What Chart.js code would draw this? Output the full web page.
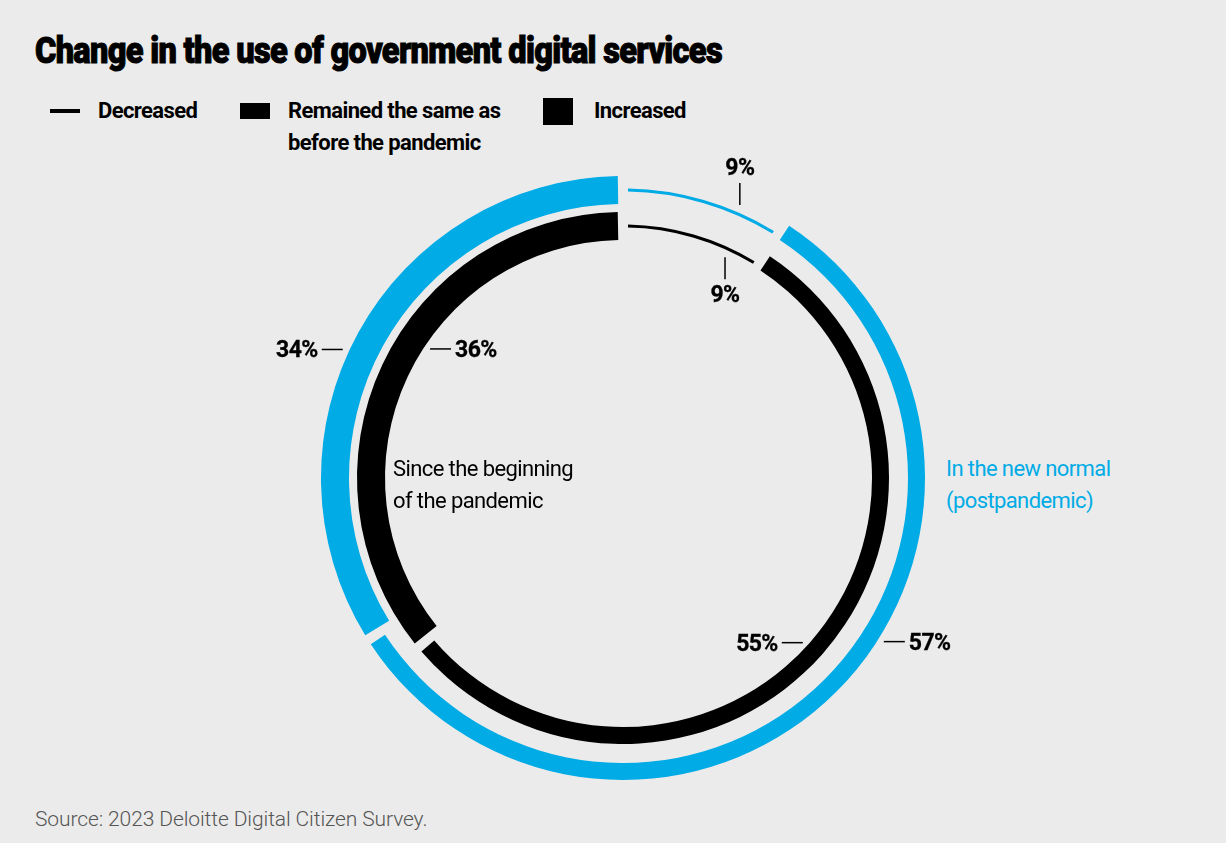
<!DOCTYPE html>
<html>
<head>
<meta charset="utf-8">
<script src="https://cdn.jsdelivr.net/npm/chart.js@4.4.1/dist/chart.umd.min.js"></script>
<style>
  html, body { margin: 0; padding: 0; }
  body {
    width: 1226px; height: 843px; position: relative; overflow: hidden;
    background: #ebebeb; color: #000;
    font-family: "Roboto", "Liberation Sans", sans-serif;
  }
  #title {
    position: absolute; left: 35px; top: 31px; margin: 0;
    font-size: 37px; font-weight: 900; letter-spacing: -0.8px; line-height: 40px;
    -webkit-text-stroke: 1px #000; white-space: nowrap; transform-origin: left center;
  }
  #legend { position: absolute; left: 0; top: 95px; }
  .item { position: absolute; top: 0; display: flex; align-items: flex-start; gap: 18px; }
  .swatch { width: 30px; background: #000; flex: none; }
  .item span { font-size: 22px; font-weight: 700; line-height: 32px; letter-spacing: -0.6px; }
  #chartBox { position: absolute; left: 312px; top: 167px; width: 622px; height: 622px; }
  #chartBox canvas { position: absolute; left: 0; top: 0; }
  .pct {
    position: absolute; font-size: 23px; font-weight: 700; line-height: 23px;
    white-space: nowrap; letter-spacing: -0.6px; -webkit-text-stroke: 0.3px #000;
  }
  .ringName { position: absolute; font-size: 22px; line-height: 32px; white-space: nowrap; letter-spacing: -0.6px; }
  #source {
    position: absolute; left: 35px; top: 805px; font-size: 21px; line-height: 28px; color: #555;
    letter-spacing: -0.1px; font-weight: 300;
  }
</style>
</head>
<body>
<h1 id="title">Change in the use of government digital services</h1>
<div id="legend"></div>
<div id="chartBox"><canvas id="ringChart" width="622" height="622"></canvas></div>
<div id="source">Source: 2023 Deloitte Digital Citizen Survey.</div>

<script>
// categories and values, outer ring first
const categories = ['Decreased', 'Remained the same as before the pandemic', 'Increased'];
const ringNames = [['In the new normal', '(postpandemic)'], ['Since the beginning', 'of the pandemic']];
const newNormal = [9, 57, 34];
const sinceStart = [9, 55, 36];

// look of the rings
const ringColors = ['#00abe6', '#000000'];
const ringOuter = [302, 266];          // px from center
const segWidth = [3, 17, 28];          // thin line / medium / thick
const GAP = 10;                        // px between segments
const legendLeft = [50, 240, 543];
const legendGap = [18, 18, 21];

// where each percentage label hangs: ring, segment, position along it, edge, tick direction
const labelSpots = [
  { ring: 0, seg: 0, at: 0.75, edge: 'outer', dir: 'up' },
  { ring: 1, seg: 0, at: 0.76, edge: 'inner', dir: 'down' },
  { ring: 0, seg: 2, at: 0.47, edge: 'outer', dir: 'left' },
  { ring: 1, seg: 2, at: 0.56, edge: 'inner', dir: 'right' },
  { ring: 1, seg: 1, at: 0.50, edge: 'inner', dir: 'left' },
  { ring: 0, seg: 1, at: 0.44, edge: 'outer', dir: 'right' }
];

// legend
const legendEl = document.getElementById('legend');
categories.forEach((c, i) => {
  const h = segWidth[i] === 3 ? 3.5 : segWidth[i] - 1;
  legendEl.innerHTML += `
    <div class="item" style="left:${legendLeft[i]}px;gap:${legendGap[i]}px">
      <div class="swatch" style="height:${h}px;margin-top:${(32 - h) / 2}px"></div>
      <span style="${i === 1 ? 'width:222px;white-space:normal' : 'white-space:nowrap'}">${c}</span>
    </div>`;
});

// squeeze title to the reference width
const titleEl = document.getElementById('title');
titleEl.style.transform = `scaleX(${687 / titleEl.offsetWidth})`;

// give every arc its own thickness and a small gap
const ringShape = {
  id: 'ringShape',
  afterDatasetsUpdate(chart) {
    chart.data.datasets.forEach((ds, d) => {
      chart.getDatasetMeta(d).data.forEach((arc, i) => {
        const w = segWidth[i];
        const thick = Math.max(...segWidth);
        const o = i === 0 ? ringOuter[d] - thick / 2 + w / 2 : ringOuter[d];
        const inn = o - w;
        const cut = GAP / 2 / ((o + inn) / 2);
        const start = arc.startAngle + cut;
        const end = arc.endAngle - cut;
        Object.assign(arc, { outerRadius: o, innerRadius: inn, startAngle: start, endAngle: end, circumference: end - start });
      });
    });
  },
  afterDraw(chart) {
    const box = document.getElementById('chartBox');
    box.querySelectorAll('.pct, .ringName').forEach(n => n.remove());
    const ctx = chart.ctx;
    const dirs = { up: [0, -1], down: [0, 1], left: [-1, 0], right: [1, 0] };
    const moves = { up: 'translate(-50%,-100%)', down: 'translate(-50%,0)', left: 'translate(-100%,-50%)', right: 'translate(0,-50%)' };

    labelSpots.forEach(s => {
      const arc = chart.getDatasetMeta(s.ring).data[s.seg];
      const a = arc.startAngle + s.at * (arc.endAngle - arc.startAngle);
      const r = s.edge === 'outer' ? arc.outerRadius : arc.innerRadius;
      const [dx, dy] = dirs[s.dir];
      const x0 = arc.x + r * Math.cos(a) + dx * 7;
      const y0 = arc.y + r * Math.sin(a) + dy * 8;
      const x1 = x0 + dx * 21, y1 = y0 + dy * 22;
      ctx.save();
      ctx.strokeStyle = '#000';
      ctx.lineWidth = 1.5;
      ctx.beginPath();
      ctx.moveTo(x0, y0);
      ctx.lineTo(x1, y1);
      ctx.stroke();
      ctx.restore();

      const el = document.createElement('div');
      el.className = 'pct';
      el.textContent = chart.data.datasets[s.ring].data[s.seg] + '%';
      el.style.left = (x1 + dx * 4) + 'px';
      el.style.top = (y1 + dy * 4) + 'px';
      el.style.transform = moves[s.dir];
      box.appendChild(el);
    });

    // ring names
    const spots = [{ left: 634, top: 286, color: ringColors[0] }, { left: 81, top: 286, color: '#000' }];
    ringNames.forEach((lines, d) => {
      const el = document.createElement('div');
      el.className = 'ringName';
      el.innerHTML = lines.join('<br>');
      el.style.left = spots[d].left + 'px';
      el.style.top = spots[d].top + 'px';
      el.style.color = spots[d].color;
      box.appendChild(el);
    });
  }
};

new Chart(document.getElementById('ringChart'), {
  type: 'doughnut',
  data: {
    labels: categories,
    datasets: [
      { label: ringNames[0].join(' '), data: newNormal, backgroundColor: ringColors[0], borderWidth: 0 },
      { label: ringNames[1].join(' '), data: sinceStart, backgroundColor: ringColors[1], borderWidth: 0 }
    ]
  },
  options: {
    responsive: false,
    animation: false,
    events: [],
    cutout: '70%',
    layout: { padding: 0 },
    plugins: { legend: { display: false }, tooltip: { enabled: false } }
  },
  plugins: [ringShape]
});
</script>
</body>
</html>
